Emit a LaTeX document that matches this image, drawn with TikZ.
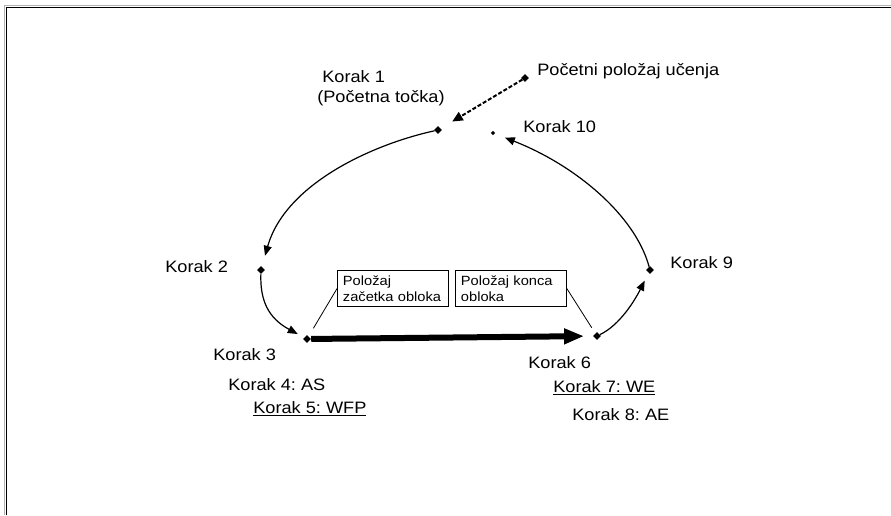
\documentclass[tikz,border=0pt]{standalone}
\usepackage{fontspec}
\setmainfont{Liberation Sans}[FakeStretch=1.1]
\frenchspacing
\usetikzlibrary{arrows.meta,shapes.geometric}

\tikzset{
  dot/.style={diamond, fill, inner sep=0pt, minimum size=6pt},
  lbl/.style={anchor=base west, inner sep=0pt},
  flow/.style={line width=0.9pt, -{Triangle[length=7.5pt, width=6pt]}},
  posbox/.style={draw, line width=0.9pt, anchor=north west, align=left,
    text width=75pt, minimum height=27pt, inner xsep=4pt, inner ysep=3pt,
    font=\fontsize{10}{11.5}\selectfont},
}

\begin{document}
\begin{tikzpicture}[x=0.75pt, y=-0.75pt, font=\fontsize{12.4}{15}\selectfont]
    \useasboundingbox (0,0) rectangle (891,515);

    % frame
    \draw[gray!60, line width=0.8pt] (4.5,515) |- (891,5.5);
    \draw[line width=0.9pt] (6.5,515) |- (891,7.5);

    % path points
    \node[dot] (k0) at (525,78) {};
    \node[dot] (k1) at (438,130) {};
    \node[dot, minimum size=3.5pt] (k10) at (493,133) {};
    \node[dot] (k2) at (261,270) {};
    \node[dot] (k3) at (307,339) {};
    \node[dot] (k6) at (597,336) {};
    \node[dot] (k9) at (650,270) {};

    % approach to the start point
    \draw[line width=1.5pt, dash pattern=on 3pt off 1.5pt,
          -{Triangle[length=8pt, width=7pt]}, shorten >=10pt] (k0) -- (k1);

    % the teaching cycle
    \draw[flow, shorten >=8.5pt] (k1) .. controls (370,145) and (285,185) .. (k2);
    \draw[flow, shorten >=5.5pt] (k2) .. controls (260,300) and (268,318) .. (k3);
    \draw[line width=4.5pt, -{Triangle[length=15pt, width=11pt]}, shorten >=6.5pt] (k3) -- (k6);
    \draw[flow, shorten >=6.5pt] (k6) .. controls (620,325) and (635,300) .. (k9);
    \draw[flow, shorten >=8pt] (k9) .. controls (635,215) and (575,165) .. (k10);

    % arc positions
    \node[posbox] (b1) at (337,270) {Položaj\\začetka obloka};
    \node[posbox] (b2) at (455,270) {Položaj konca\\obloka};
    \draw[line width=0.6pt, shorten >=7pt] (b1.west) -- (k3);
    \draw[line width=0.6pt, shorten >=5pt] (b2.east) -- (k6);

    % labels
    \node[lbl] (t0) at (537,75) {Početni položaj učenja};
    \node[lbl] (t1) at (322,82) {Korak 1};
    \node[lbl] (t1b) at (317,102) {(Početna točka)};
    \node[lbl] (t10) at (523,132) {Korak 10};
    \node[lbl] (t2) at (165,272) {Korak 2};
    \node[lbl] (t9) at (670,268) {Korak 9};
    \node[lbl] (t3) at (213,360) {Korak 3};
    \node[lbl] (t6) at (528,368) {Korak 6};
    \node[lbl] (t4) at (228,390) {Korak 4: AS};
    \node[lbl] (t5) at (253,413) {\underline{Korak 5: WFP}};
    \node[lbl] (t7) at (553,392) {\underline{Korak 7: WE}};
    \node[lbl] (t8) at (572,420) {Korak 8: AE};
\end{tikzpicture}
\end{document}
